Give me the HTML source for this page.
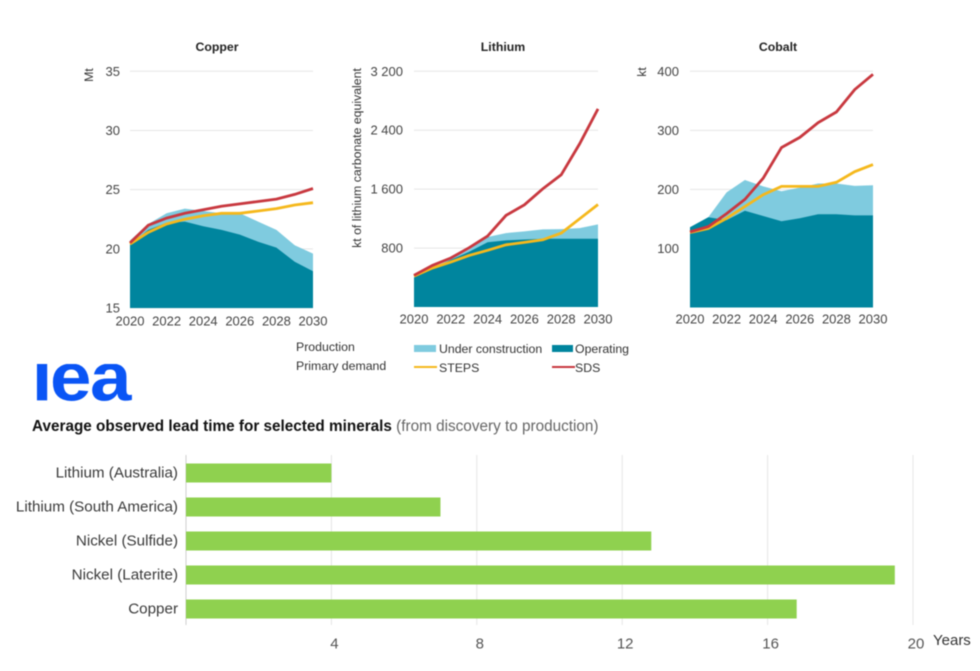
<!DOCTYPE html>
<html lang="en">
<head>
<meta charset="utf-8">
<title>Critical minerals supply and demand</title>
<style>
html,body{margin:0;padding:0;background:#fff;}
#stage{display:block;width:980px;height:671px;font-family:"Liberation Sans",sans-serif;filter:blur(0.4px);}
text{font-family:"Liberation Sans",sans-serif;}
</style>
</head>
<body>
<svg id="stage" xmlns="http://www.w3.org/2000/svg" width="980" height="671" viewBox="0 0 980 671">
  <defs><clipPath id="logo-clip"><rect x="30" y="364" width="110" height="40"/></clipPath></defs>
  <g id="charts"></g>
  <g id="legend">
    <text x="296" y="351" font-size="12.3" fill="#333">Production</text>
    <text x="296" y="370" font-size="12.3" fill="#333">Primary demand</text>
    <rect x="414" y="345" width="22" height="7" fill="#7fcbdf"/>
    <text x="439" y="353" font-size="12.3" fill="#333">Under construction</text>
    <rect x="552" y="345" width="21" height="7" fill="#00859e"/>
    <text x="575" y="353" font-size="12.3" fill="#333">Operating</text>
    <rect x="414" y="366" width="23" height="2" fill="#f5b81c"/>
    <text x="439" y="372" font-size="12.3" fill="#333">STEPS</text>
    <rect x="552" y="366" width="23" height="2" fill="#c8383f"/>
    <text x="575" y="372" font-size="12.3" fill="#333">SDS</text>
  </g>
  <g clip-path="url(#logo-clip)">
    <text transform="scale(1.08,1)" x="29.4 46.3 83.3" y="400.5" font-size="69" font-weight="700" fill="#0a55f5">iea</text>
  </g>
  <text x="32" y="431" font-size="15.3" fill="#111"><tspan font-weight="700">Average observed lead time for selected minerals</tspan><tspan fill="#666"> (from discovery to production)</tspan></text>
  <g id="bars"></g>
</svg>
<script>
var years = [2020, 2021, 2022, 2023, 2024, 2025, 2026, 2027, 2028, 2029, 2030];
var yearTicks = [2020, 2022, 2024, 2026, 2028, 2030];

var copperOperating = [20.4, 21.6, 22.2, 22.3, 21.9, 21.6, 21.2, 20.6, 20.1, 18.9, 18.1];
var copperTotal = [20.7, 22.1, 23.0, 23.4, 23.2, 23.0, 23.0, 22.3, 21.6, 20.3, 19.6];
var copperSteps = [20.4, 21.4, 22.1, 22.5, 22.8, 23.0, 23.0, 23.2, 23.4, 23.7, 23.9];
var copperSds = [20.5, 22.0, 22.6, 23.0, 23.3, 23.6, 23.8, 24.0, 24.2, 24.6, 25.1];
var copperTicks = [15, 20, 25, 30, 35];
var copperTickLabels = ["15", "20", "25", "30", "35"];

var lithiumOperating = [400, 520, 640, 750, 880, 904, 917, 926, 926, 926, 926];
var lithiumTotal = [410, 530, 650, 780, 950, 1003, 1026, 1053, 1058, 1071, 1121];
var lithiumSteps = [420, 530, 610, 700, 770, 845, 877, 913, 1003, 1198, 1392];
var lithiumSds = [430, 565, 665, 805, 963, 1243, 1388, 1605, 1795, 2215, 2690];
var lithiumTicks = [800, 1600, 2400, 3200];
var lithiumTickLabels = ["800", "1 600", "2 400", "3 200"];

var cobaltOperating = [136, 153, 148, 164, 155, 146, 151, 158, 158, 156, 156];
var cobaltTotal = [136, 153, 195, 216, 205, 197, 203, 210, 210, 206, 207];
var cobaltSteps = [127, 134, 151, 171, 191, 205, 205, 205, 212, 230, 242];
var cobaltSds = [128, 137, 159, 183, 219, 271, 288, 313, 331, 369, 395];
var cobaltTicks = [100, 200, 300, 400];
var cobaltTickLabels = ["100", "200", "300", "400"];

var minerals = ["Lithium (Australia)", "Lithium (South America)", "Nickel (Sulfide)", "Nickel (Laterite)", "Copper"];
var leadTimes = [4, 7, 12.8, 19.5, 16.8];
var leadTicks = [4, 8, 12, 16, 20];
var leadTickLabels = ["4", "8", "12", "16", "20"];

var NS = "http://www.w3.org/2000/svg";
function mk(parent, tag, attrs, txt) {
  var el = document.createElementNS(NS, tag);
  for (var k in attrs) el.setAttribute(k, attrs[k]);
  if (txt !== undefined) el.textContent = txt;
  parent.appendChild(el);
  return el;
}
function pts(xs, ys) {
  return xs.map(function (v, i) { return v.toFixed(1) + "," + ys[i].toFixed(1); }).join(" ");
}
function drawChart(c) {
  var root = document.getElementById("charts");
  var g = mk(root, "g", {});
  
  
  var xScale = function (v) { return c.x0 + (v - years[0]) / (years[years.length - 1] - years[0]) * (c.x1 - c.x0); };
  var yScale = function (v) { return c.yBase + (v - c.min) / (c.max - c.min) * (c.yTop - c.yBase); };
  var title = mk(g, "text", { x: c.titleX, y: 51, "font-size": 12.3, "font-weight": 700, "text-anchor": "middle", fill: "#222" }, c.title);
  
  
  var unit = mk(g, "text", { transform: "translate(" + c.unitX + "," + c.unitY + ") rotate(-90)", "font-size": 12.3, "text-anchor": "middle", fill: "#333" }, c.unit);
  
  
  c.ticks.forEach(function (t, i) {
    var y = yScale(t);
    var line = mk(g, "line", { x1: c.x0, x2: c.x1, y1: y, y2: y, stroke: "#e6e6e6", "stroke-width": 1 });
    
    
    var lab = mk(g, "text", { x: c.labelX, y: y + 4.5, "font-size": 13, "text-anchor": "end", fill: "#444" }, c.tickLabels[i]);
    
    
  });
  var xs = years.map(xScale);
  var base = yScale(c.min);
  var close = c.x1.toFixed(1) + "," + base + " " + c.x0.toFixed(1) + "," + base;
  var uc = mk(g, "polygon", { points: pts(xs, c.total.map(yScale)) + " " + close, fill: "#7fcbdf" });
  
  
  var op = mk(g, "polygon", { points: pts(xs, c.operating.map(yScale)) + " " + close, fill: "#00859e" });
  
  
  var st = mk(g, "polyline", { points: pts(xs, c.steps.map(yScale)), fill: "none", stroke: "#f5b81c", "stroke-width": 2.8 });
  
  
  var sd = mk(g, "polyline", { points: pts(xs, c.sds.map(yScale)), fill: "none", stroke: "#c8383f", "stroke-width": 2.8 });
  
  
  yearTicks.forEach(function (t) {
    var lab = mk(g, "text", { x: xScale(t), y: c.xLabelY, "font-size": 13, "text-anchor": "middle", fill: "#444" }, String(t));
    
    
  });
}
drawChart({ key: "copper", title: "Copper", titleX: 217, unit: "Mt", unitX: 93, unitY: 75, x0: 130, x1: 313, yBase: 308, yTop: 71.3, min: 15, max: 35, ticks: copperTicks, tickLabels: copperTickLabels, labelX: 120, xLabelY: 325.5, operating: copperOperating, total: copperTotal, steps: copperSteps, sds: copperSds });
drawChart({ key: "lithium", title: "Lithium", titleX: 503, unit: "kt of lithium carbonate equivalent", unitX: 361, unitY: 158, x0: 414, x1: 598, yBase: 307, yTop: 71.3, min: 0, max: 3200, ticks: lithiumTicks, tickLabels: lithiumTickLabels, labelX: 403, xLabelY: 323.5, operating: lithiumOperating, total: lithiumTotal, steps: lithiumSteps, sds: lithiumSds });
drawChart({ key: "cobalt", title: "Cobalt", titleX: 778, unit: "kt", unitX: 646, unitY: 72, x0: 690, x1: 873, yBase: 307.5, yTop: 71.3, min: 0, max: 400, ticks: cobaltTicks, tickLabels: cobaltTickLabels, labelX: 679, xLabelY: 323.5, operating: cobaltOperating, total: cobaltTotal, steps: cobaltSteps, sds: cobaltSds });

(function () {
  var g = document.getElementById("bars");
  var x0 = 186, x20 = 913, top = 455, bottom = 625;
  var xScale = function (v) { return x0 + v / 20 * (x20 - x0); };
  var axis = mk(g, "line", { x1: x0, x2: x0, y1: top, y2: bottom, stroke: "#cfcfcf", "stroke-width": 1 });
  
  
  leadTicks.forEach(function (t, i) {
    var x = xScale(t);
    var line = mk(g, "line", { x1: x, x2: x, y1: top, y2: bottom, stroke: "#e6e6e6", "stroke-width": 1 });
    
    
    var lab = mk(g, "text", { x: x + 3, y: 648.5, "font-size": 15, "text-anchor": "middle", fill: "#555" }, leadTickLabels[i]);
    
    
  });
  minerals.forEach(function (m, i) {
    var cy = 473 + i * 34;
    var bar = mk(g, "rect", { x: x0, y: cy - 9.5, width: xScale(leadTimes[i]) - x0, height: 19, fill: "#8fd14f" });
    
    
    var lab = mk(g, "text", { x: 178, y: cy + 4.5, "font-size": 15.2, "text-anchor": "end", fill: "#3a3a3a" }, m);
    
    
  });
  var yrs = mk(g, "text", { x: 933, y: 645, "font-size": 15, fill: "#333" }, "Years");
  
  
})();
</script>
</body>
</html>
